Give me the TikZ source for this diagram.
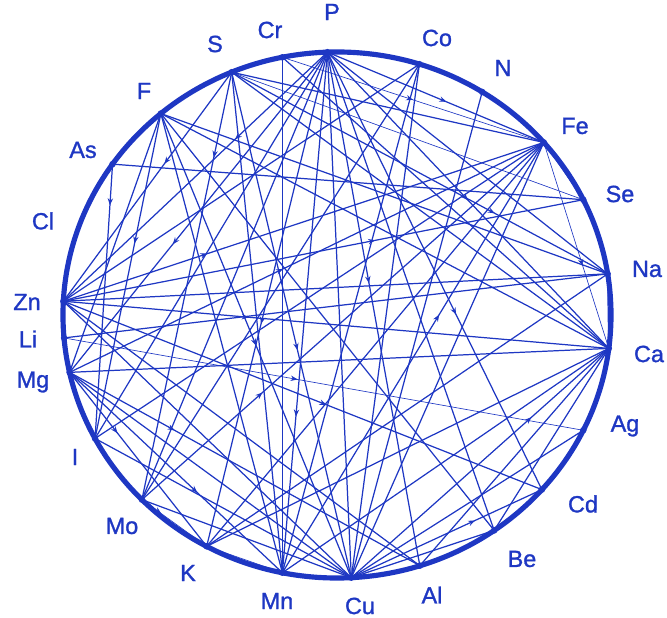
\documentclass[tikz,border=0pt]{standalone}
\usepackage{fontspec}
\setmainfont{Liberation Sans}
\newfontfamily\elemfont[FakeBold=1.2]{Liberation Sans}
\usepackage{tikz}
\usetikzlibrary{arrows.meta,decorations.markings}
\definecolor{wheel}{RGB}{30,55,195}

\begin{document}
\begin{tikzpicture}[x=0.03cm, y=0.03cm,
  rim/.style={draw=wheel, line width=4.4pt},
  link/.style={draw=wheel, line width=1.05pt},
  faint/.style={draw=wheel, line width=0.55pt},
  marr/.style={postaction={decorate,decoration={markings,
      mark=at position #1 with {\arrow[wheel]{Stealth[length=6pt,width=4.6pt]}}}}},
  hub/.style={fill=wheel},
  elem/.style={text=wheel, inner sep=0pt, font=\elemfont\fontsize{20}{20}\selectfont}
]
\useasboundingbox (-337,-303) rectangle (330,315);

% points on the rim
\foreach \n/\a in {P/92, Cr/101.5, S/112.6, F/130, As/145, Cl/158, Zn/177, Li/185,
  Mg/192.6, I/208, Mo/224.6, K/241.6, Mn/258.5, Cu/273, Al/287.6, Be/305,
  Cd/318.4, Ag/334, Ca/352.7, Na/9, Se/26, Fe/41, N/58, Co/72.5}
  \coordinate (\n) at (\a:274 and 263);

\draw[rim] (0,0) ellipse [x radius=8.22cm, y radius=7.89cm];

% labels
\node[elem] (lP)  at (-5,303)    {P};
\node[elem] (lCr) at (-67,285)   {Cr};
\node[elem] (lS)  at (-122,271)  {S};
\node[elem] (lF)  at (-193,224)  {F};
\node[elem] (lAs) at (-254,165)  {As};
\node[elem] (lCl) at (-294,94)   {Cl};
\node[elem] (lZn) at (-310,13)   {Zn};
\node[elem] (lLi) at (-309,-24)  {Li};
\node[elem] (lMg) at (-304,-67)  {Mg};
\node[elem] (lI)  at (-262,-142) {I};
\node[elem] (lMo) at (-215,-211) {Mo};
\node[elem] (lK)  at (-149,-258) {K};
\node[elem] (lMn) at (-60,-286)  {Mn};
\node[elem] (lCu) at (23,-291)   {Cu};
\node[elem] (lAl) at (95,-280)   {Al};
\node[elem] (lBe) at (185,-244)  {Be};
\node[elem] (lCd) at (246,-189)  {Cd};
\node[elem] (lAg) at (288,-111)  {Ag};
\node[elem] (lCa) at (312,-39)   {Ca};
\node[elem] (lNa) at (310,46)    {Na};
\node[elem] (lSe) at (283,121)   {Se};
\node[elem] (lFe) at (238,189)   {Fe};
\node[elem] (lN)  at (166,247)   {N};
\node[elem] (lCo) at (100,277)   {Co};

% interactions
\draw[link,marr=0.35](P)--(Zn);\draw[link,marr=0.6](P)--(Mg);\draw[link](P)--(Mo);
\draw[link,marr=0.55](P)--(K);\draw[link,marr=0.7](P)--(Mn);\draw[link](P)--(Cu);
\draw[link,marr=0.45](P)--(Al);\draw[link](P)--(Be);\draw[link,marr=0.5](P)--(Ca);
\draw[link](P)--(Na);\draw[link,marr=0.55](P)--(Fe);\draw[link,marr=0.6](P)--(Cd);
\draw[link](P)--(I);
\draw[link](Cr)--(Ca);\draw[faint,marr=0.5](Cr)--(Fe);\draw[link](Cr)--(Mn);
\draw[link,marr=0.2](S)--(Mo);\draw[link](S)--(Mn);\draw[link,marr=0.55](S)--(Cu);
\draw[faint](S)--(Se);\draw[link,marr=0.4](S)--(Zn);\draw[link](S)--(Ca);
\draw[link,marr=0.7](S)--(Na);\draw[link](S)--(Fe);
\draw[link,marr=0.4](F)--(I);\draw[link](F)--(Mn);\draw[link,marr=0.5](F)--(Cu);
\draw[link](F)--(Ca);\draw[link](F)--(Na);\draw[link](F)--(Mg);\draw[link](F)--(Be);
\draw[link](As)--(Se);\draw[link,marr=0.15](As)--(I);
\draw[link,marr=0.3](Zn)--(Fe);\draw[link](Zn)--(Co);\draw[link,marr=0.6](Zn)--(Se);
\draw[link](Zn)--(Na);\draw[link,marr=0.34](Zn)--(Ca);\draw[link,marr=0.55](Zn)--(Cd);
\draw[link](Zn)--(Cu);\draw[link](Zn)--(Al);
\draw[link](Li)--(Na);\draw[faint,marr=0.45](Li)--(Ag);
\draw[link](Mg)--(Ca);\draw[link,marr=0.45](Mg)--(Fe);\draw[link,marr=0.35](Mg)--(K);
\draw[link,marr=0.6](Mg)--(Mn);\draw[link](Mg)--(Cu);\draw[link,marr=0.3](Mg)--(Al);
\draw[link](I)--(Fe);\draw[link](I)--(Cu);
\draw[link](Mo)--(Cu);\draw[link,marr=0.3](Mo)--(Fe);\draw[link](Mo)--(Co);
\draw[faint,marr=0.3](Mo)--(K);
\draw[link](K)--(Ca);\draw[link](K)--(Na);\draw[link](K)--(Fe);\draw[faint](K)--(Mn);
\draw[link,marr=0.6](Mn)--(Fe);\draw[link](Mn)--(Ca);\draw[link](Mn)--(Co);
\draw[link](Cu)--(Fe);\draw[link,marr=0.7](Cu)--(Ca);\draw[link,marr=0.65](Cu)--(Cd);
\draw[link](Cu)--(Ag);\draw[link](Cu)--(Be);\draw[link](Cu)--(N);\draw[link](Cu)--(Co);
\draw[link](Al)--(Ca);\draw[link](Be)--(Ca);
\draw[faint,marr=0.6](Fe)--(Ca);\draw[faint](Fe)--(Se);\draw[link](Ca)--(Na);

% hubs
\foreach \n in {P,Cr,S,F,As,Zn,Li,Mg,I,Mo,K,Mn,Cu,Al,Be,Cd,Ag,Ca,Na,Se,Fe,N,Co}
  \fill[hub] (\n) circle (2.8pt);
\end{tikzpicture}
\end{document}
